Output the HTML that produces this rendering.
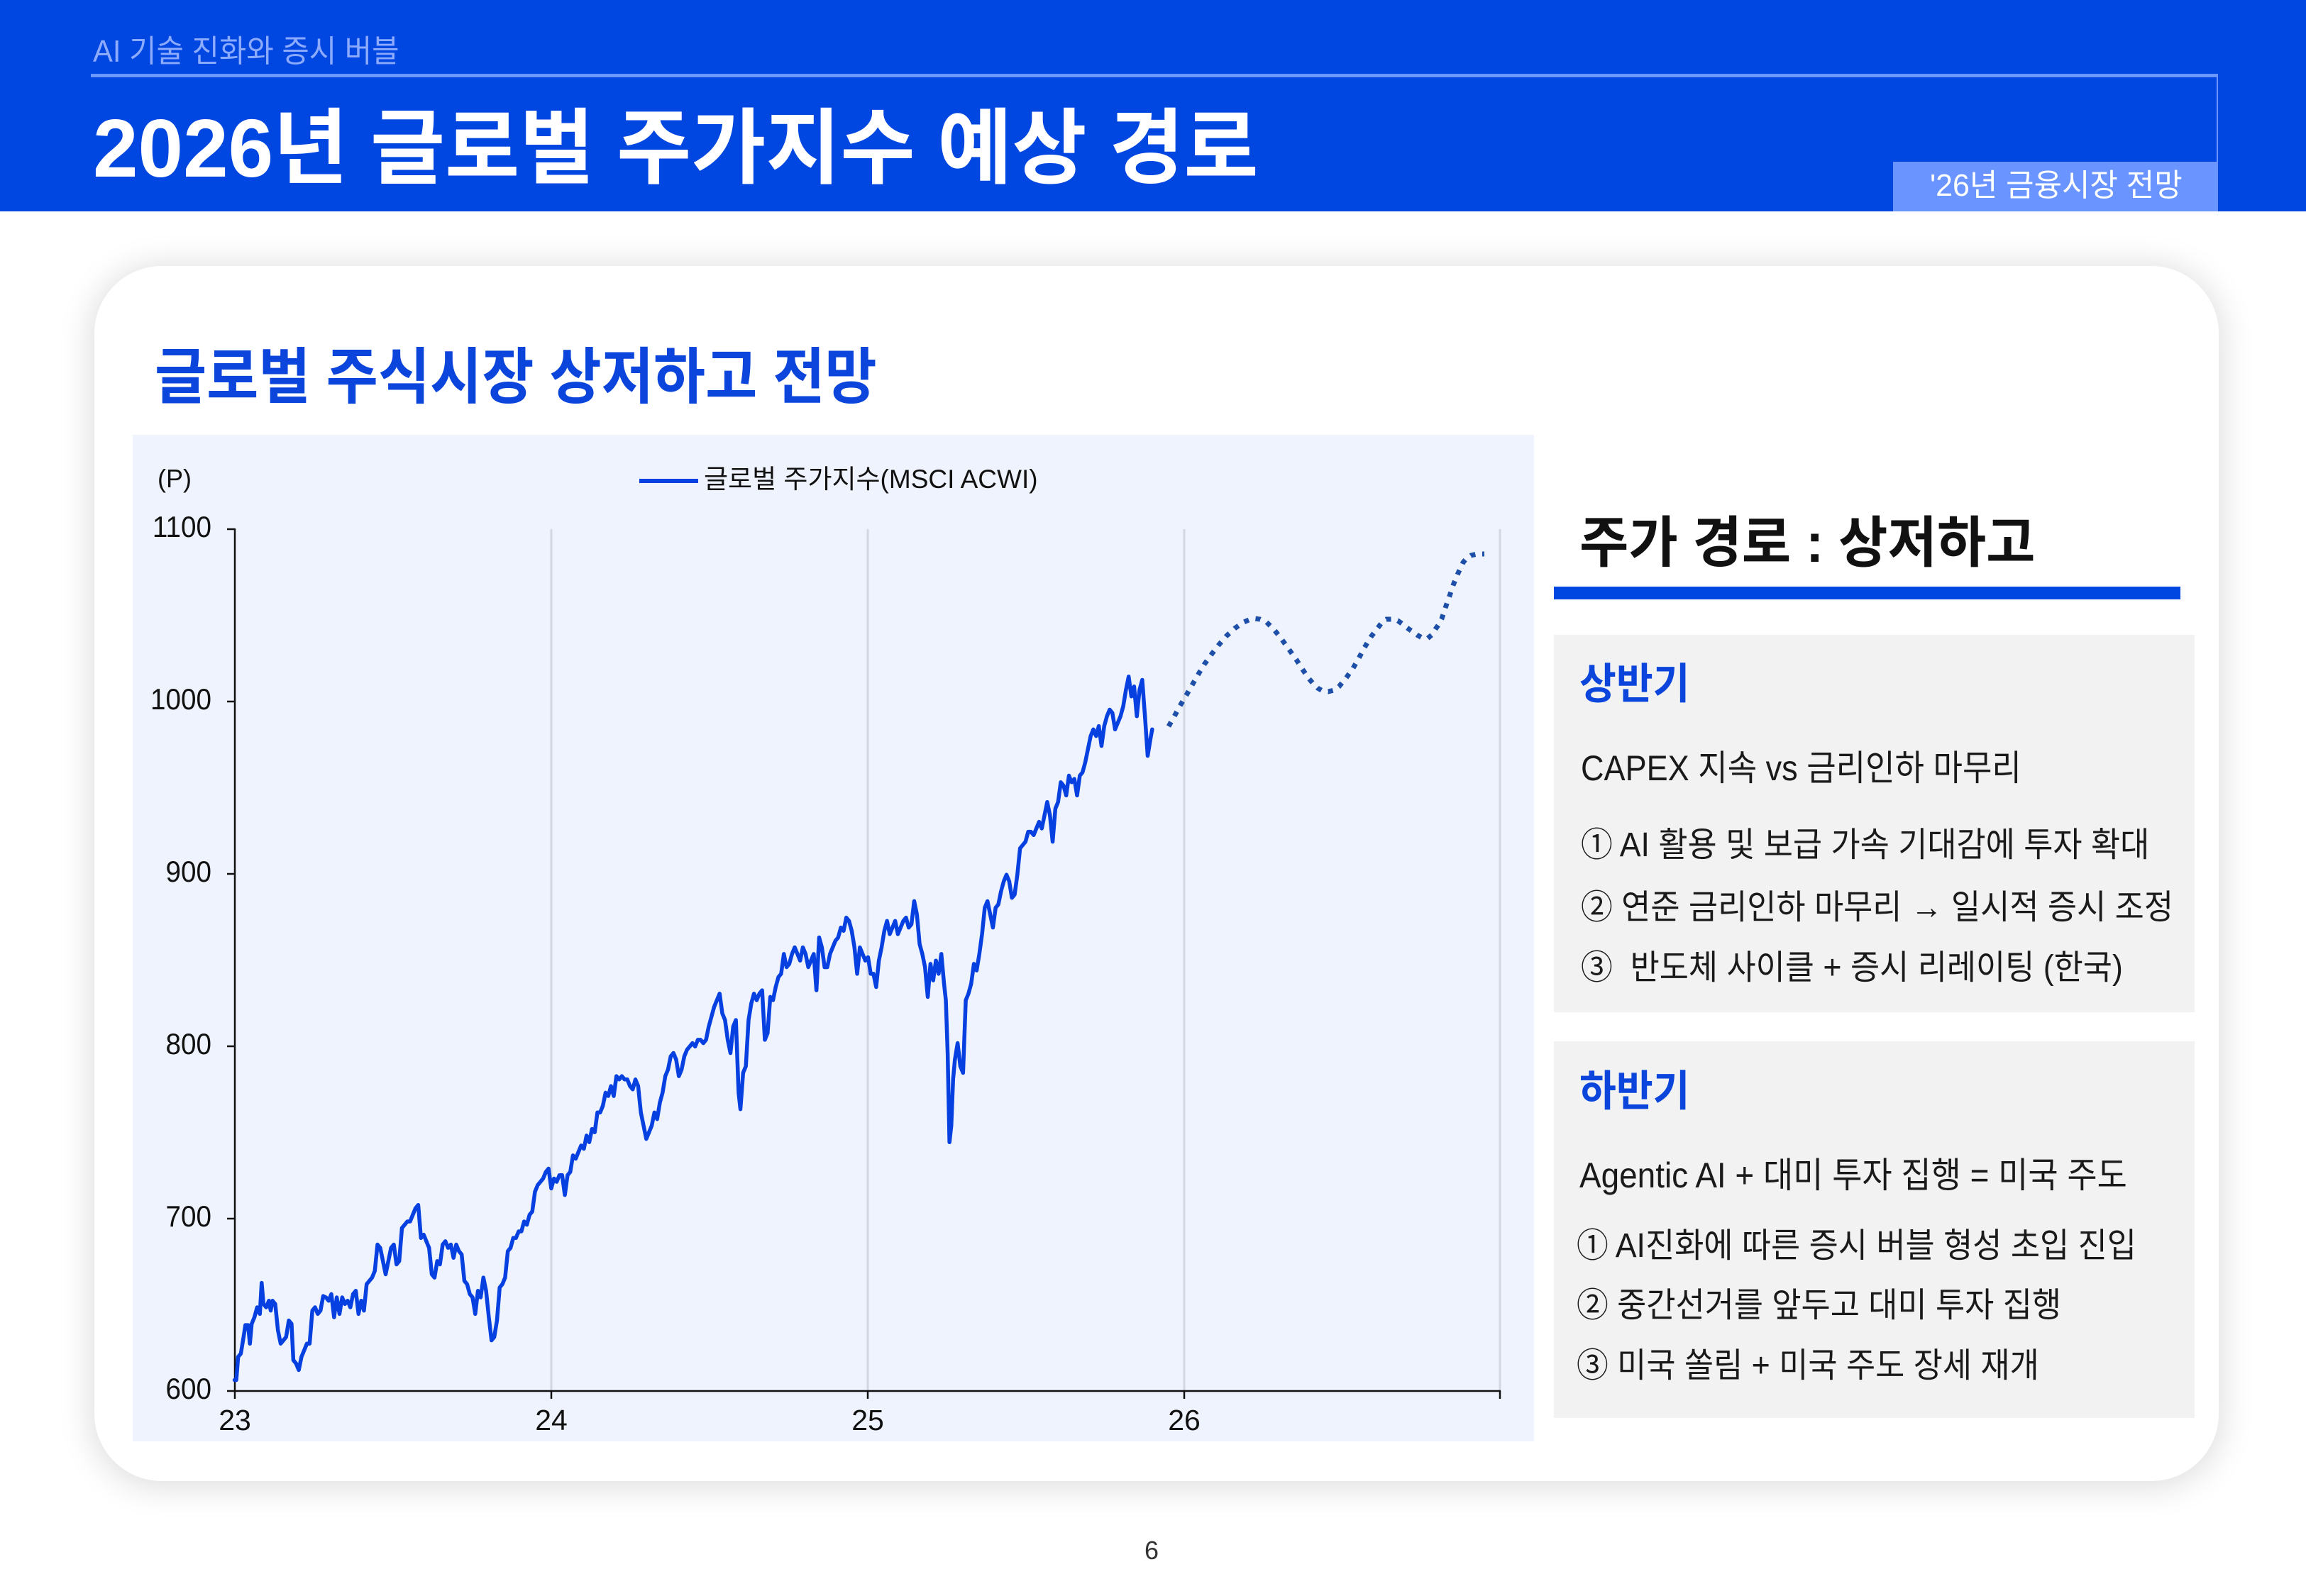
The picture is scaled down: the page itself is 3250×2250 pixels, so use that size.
<!DOCTYPE html>
<html><head><meta charset="utf-8">
<style>
html,body{margin:0;padding:0;background:#fff;}
body{width:3250px;height:2250px;position:relative;overflow:hidden;font-family:"Liberation Sans","Noto Sans CJK KR",sans-serif;}
.t{position:absolute;white-space:nowrap;line-height:1;transform-origin:0 0;font-family:"Liberation Sans","Noto Sans CJK KR",sans-serif;}
.r{position:absolute;}
.yl{position:absolute;width:100px;text-align:right;white-space:nowrap;line-height:1;font-size:42px;color:#111;transform-origin:100% 0;transform:scaleX(.92);}
.xl{position:absolute;width:100px;text-align:center;white-space:nowrap;line-height:1;font-size:41px;color:#111;top:1982px;}
.b{font-size:48px;color:#1a1a1a;transform:scaleX(.932);}
</style></head><body>

<!-- header -->
<div class="r" style="left:0;top:0;width:3250px;height:298px;background:#0046E0;"></div>
<div class="r" style="left:128px;top:104px;width:2998px;height:5px;background:#6A98FF;"></div>
<div class="r" style="left:3124px;top:106px;width:2px;height:122px;background:#6A94FF;"></div>
<div class="r" style="left:2668px;top:228px;width:458px;height:70px;background:#6A94FF;"></div>
<div class="t" style="left:131px;top:51px;font-size:44px;color:#8CABFF;transform:scaleX(.949);">AI 기술 진화와 증시 버블</div>
<div class="t" style="left:131px;top:151px;font-size:116px;font-weight:700;color:#fff;transform:scaleX(.985);">2026년 글로벌 주가지수 예상 경로</div>
<div class="t" style="left:2720px;top:240px;font-size:44px;color:#fff;transform:scaleX(.974);">'26년 금융시장 전망</div>

<!-- card -->
<div class="r" style="left:133px;top:375px;width:2994px;height:1713px;background:#fff;border-radius:95px;box-shadow:0 4px 45px 6px rgba(0,0,0,0.13);"></div>
<div class="t" style="left:218px;top:489px;font-size:86px;font-weight:700;color:#0B45DB;transform:scaleX(.925);">글로벌 주식시장 상저하고 전망</div>

<!-- chart bg -->
<div class="r" style="left:187px;top:613px;width:1975px;height:1419px;background:#EFF3FD;"></div>

<svg class="r" style="left:0;top:0;" width="3250" height="2250" viewBox="0 0 3250 2250">
  <g stroke="#D3D7E1" stroke-width="3">
    <line x1="777" y1="746" x2="777" y2="1961"/>
    <line x1="1223" y1="746" x2="1223" y2="1961"/>
    <line x1="1669" y1="746" x2="1669" y2="1961"/>
    <line x1="2114" y1="746" x2="2114" y2="1961"/>
  </g>
  <g stroke="#111" stroke-width="2.5" fill="none">
    <line x1="331" y1="745" x2="331" y2="1962"/>
    <line x1="330" y1="1961" x2="2115" y2="1961"/>
    <line x1="320" y1="746" x2="331" y2="746"/>
    <line x1="320" y1="989" x2="331" y2="989"/>
    <line x1="320" y1="1232" x2="331" y2="1232"/>
    <line x1="320" y1="1475" x2="331" y2="1475"/>
    <line x1="320" y1="1718" x2="331" y2="1718"/>
    <line x1="320" y1="1961" x2="331" y2="1961"/>
    <line x1="331" y1="1961" x2="331" y2="1972"/>
    <line x1="777" y1="1961" x2="777" y2="1972"/>
    <line x1="1223" y1="1961" x2="1223" y2="1972"/>
    <line x1="1669" y1="1961" x2="1669" y2="1972"/>
    <line x1="2114" y1="1961" x2="2114" y2="1972"/>
  </g>
  <line x1="901" y1="678" x2="984" y2="678" stroke="#0640E0" stroke-width="6"/>
  <g transform="translate(180,600) scale(1.2755,0.9311)">
    <polyline fill="none" stroke="#0640E0" stroke-width="5.5" vector-effect="non-scaling-stroke" stroke-linejoin="round" stroke-linecap="round" points="118,1445 120,1445 122,1410 125,1405 128,1380 130,1362 133,1362 135,1390 137,1360 140,1350 143,1335 146,1345 148,1298 150,1330 153,1335 156,1325 158,1340 160,1325 163,1330 166,1370 169,1390 172,1385 175,1380 178,1355 181,1360 183,1415 186,1420 189,1430 192,1410 195,1400 198,1390 201,1390 204,1340 207,1335 210,1345 213,1340 216,1318 219,1320 222,1325 225,1315 228,1350 231,1320 234,1345 237,1320 240,1330 243,1325 246,1335 249,1315 252,1310 255,1345 258,1325 261,1340 264,1300 267,1295 270,1290 273,1280 276,1240 279,1245 282,1265 285,1285 288,1265 291,1245 294,1240 297,1270 300,1265 303,1215 306,1210 309,1205 312,1205 315,1195 318,1185 321,1180 324,1230 327,1225 330,1235 333,1245 336,1285 339,1290 342,1265 345,1270 348,1240 351,1235 354,1245 357,1240 360,1260 363,1240 366,1250 369,1255 372,1295 375,1300 378,1315 381,1320 384,1345 387,1310 390,1320 393,1290 396,1310 399,1350 402,1385 405,1380 408,1355 411,1305 414,1300 417,1290 420,1250 423,1245 426,1230 429,1230 432,1220 435,1220 438,1205 441,1210 444,1195 447,1190 450,1160 453,1150 456,1145 459,1140 462,1130 465,1125 468,1155 471,1140 474,1145 477,1135 480,1135 483,1165 486,1135 489,1130 492,1105 495,1110 498,1100 501,1090 504,1095 507,1075 510,1085 513,1065 516,1070 519,1040 522,1040 525,1030 528,1010 531,1015 534,1000 537,1015 540,985 543,990 546,985 549,990 552,990 555,1000 558,1005 561,990 564,1000 567,1040 570,1060 573,1080 576,1070 579,1060 582,1040 585,1050 588,1025 591,1010 594,985 597,975 600,955 603,950 606,960 609,985 612,975 615,955 618,945 621,940 624,935 627,940 630,930 633,930 636,935 639,930 642,910 645,895 648,880 651,870 654,860 657,890 660,900 663,930 666,950 669,910 672,900 675,1010 677,1035 680,980 683,970 686,900 689,875 692,860 695,870 698,860 701,855 704,930 707,920 710,865 713,870 716,850 719,835 722,830 725,800 728,820 731,815 734,800 737,790 740,800 743,810 746,790 749,800 752,820 755,810 758,800 761,855 764,775 767,790 770,820 773,820 776,800 779,790 782,780 785,775 788,760 791,765 794,745 797,750 800,765 803,790 806,830 809,790 812,800 815,810 818,805 821,830 824,830 827,850 830,810 833,790 836,765 839,750 842,770 845,760 848,750 851,770 854,760 857,750 860,745 863,760 866,755 869,720 872,740 875,785 878,800 881,820 884,865 887,815 890,840 893,810 896,830 899,800 902,845 904,870 906,950 908,1085 910,1060 912,990 914,960 917,935 920,970 923,980 926,870 929,860 932,845 935,815 938,825 941,800 944,770 947,730 950,720 953,740 956,760 959,730 962,725 965,705 968,690 971,680 974,690 977,715 980,710 983,680 986,640 989,635 992,630 995,615 998,615 1001,620 1004,610 1007,600 1010,610 1013,590 1016,570 1019,590 1022,630 1025,580 1028,570 1031,540 1034,545 1037,560 1040,530 1043,540 1046,535 1049,560 1052,530 1055,525 1058,510 1061,490 1064,470 1067,460 1070,470 1073,455 1076,485 1079,455 1082,440 1085,430 1088,435 1091,460 1094,450 1097,440 1100,425 1103,400 1106,380 1109,410 1112,395 1115,440 1118,400 1121,385 1124,440 1127,500 1130,475 1132,460"/>
  </g>
  <polyline fill="none" stroke="#1E4FA8" stroke-width="7" stroke-dasharray="7 9.7" points="1647,1024 1655,1010 1663,995 1672,980 1680,966 1688,952 1697,937 1707,923 1717,910 1728,897 1740,886 1753,877 1760,874 1768,872 1776,873 1785,877 1796,888 1807,902 1817,916 1827,930 1836,944 1845,957 1851,964 1857,970 1864,974 1872,975 1880,973 1887,968 1897,956 1907,942 1915,928 1923,913 1932,898 1942,885 1948,877 1954,873 1962,873 1970,875 1977,880 1983,885 1990,890 1997,895 2004,899 2012,900 2018,895 2023,887 2028,880 2032,872 2037,857 2043,840 2048,825 2055,808 2062,793 2067,787 2073,783 2082,781 2092,781"/>
</svg>

<!-- chart texts -->
<div class="t" style="left:222px;top:657px;font-size:36px;color:#111;">(P)</div>
<div class="t" style="left:992px;top:657px;font-size:37px;color:#111;">글로벌 주가지수(MSCI ACWI)</div>
<div class="yl" style="left:198px;top:722px;">1100</div>
<div class="yl" style="left:198px;top:965px;">1000</div>
<div class="yl" style="left:198px;top:1208px;">900</div>
<div class="yl" style="left:198px;top:1451px;">800</div>
<div class="yl" style="left:198px;top:1694px;">700</div>
<div class="yl" style="left:198px;top:1937px;">600</div>
<div class="xl" style="left:281px;">23</div>
<div class="xl" style="left:727px;">24</div>
<div class="xl" style="left:1173px;">25</div>
<div class="xl" style="left:1619px;">26</div>

<!-- right panel -->
<div class="t" style="left:2226px;top:726px;font-size:78px;font-weight:700;color:#111;transform:scaleX(.966);">주가 경로 : 상저하고</div>
<div class="r" style="left:2190px;top:827px;width:883px;height:18px;background:#0046E0;"></div>

<div class="r" style="left:2190px;top:895px;width:903px;height:532px;background:#F2F2F2;"></div>
<div class="t" style="left:2226px;top:935px;font-size:60px;font-weight:700;color:#0B45DB;transform:scaleX(.939);">상반기</div>
<div class="t" style="left:2228px;top:1058px;font-size:50px;color:#1a1a1a;transform:scaleX(.901);">CAPEX 지속 vs 금리인하 마무리</div>
<div class="t b" style="left:2228px;top:1168px;">① AI 활용 및 보급 가속 기대감에 투자 확대</div>
<div class="t b" style="left:2228px;top:1256px;">② 연준 금리인하 마무리 → 일시적 증시 조정</div>
<div class="t b" style="left:2228px;top:1341px;">③&nbsp; 반도체 사이클 + 증시 리레이팅 (한국)</div>

<div class="r" style="left:2190px;top:1468px;width:903px;height:531px;background:#F2F2F2;"></div>
<div class="t" style="left:2226px;top:1509px;font-size:60px;font-weight:700;color:#0B45DB;transform:scaleX(.939);">하반기</div>
<div class="t" style="left:2226px;top:1632px;font-size:50px;color:#1a1a1a;transform:scaleX(.918);">Agentic AI + 대미 투자 집행 = 미국 주도</div>
<div class="t b" style="left:2222px;top:1733px;">① AI진화에 따른 증시 버블 형성 초입 진입</div>
<div class="t b" style="left:2222px;top:1817px;">② 중간선거를 앞두고 대미 투자 집행</div>
<div class="t b" style="left:2222px;top:1902px;">③ 미국 쏠림 + 미국 주도 장세 재개</div>

<!-- page number -->
<div class="t" style="left:1573px;top:2168px;width:100px;text-align:center;font-size:36px;color:#333;">6</div>

</body></html>
